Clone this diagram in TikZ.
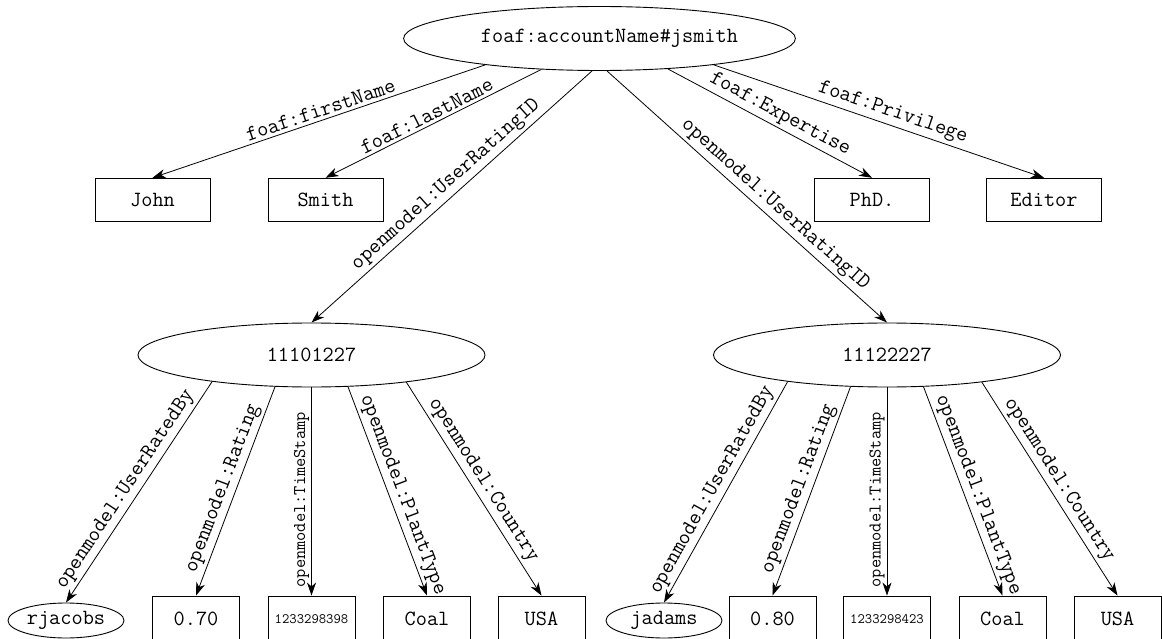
\documentclass[tikz,border=0pt]{standalone}
\usepackage{fontspec}
\usetikzlibrary{shapes.geometric,arrows.meta}
\begin{document}
\begin{tikzpicture}[x=1pt,y=-1pt,
  fnt/.style={font=\fontsize{21.7}{26}\selectfont\ttfamily},
  ell/.style={draw, ellipse, fnt, inner sep=0pt, line width=0.9pt},
  bigell/.style={ell, minimum width=347pt, minimum height=64pt},
  smallell/.style={ell, minimum width=116pt, minimum height=35pt},
  rectbox/.style={draw, rectangle, fnt, inner sep=0pt, line width=0.9pt},
  topbox/.style={rectbox, minimum width=115pt, minimum height=43.5pt},
  botbox/.style={rectbox, minimum width=87pt, minimum height=46pt},
  tsval/.style={font=\fontsize{14.3}{16}\selectfont\ttfamily},
  arr/.style={-{Stealth[length=13pt,width=9pt,inset=4pt]}, line width=0.8pt},
  lab/.style={fnt, inner sep=3pt, sloped, above},
  tslab/.style={font=\fontsize{17.9}{20}\selectfont\ttfamily, inner sep=2pt, rotate=90, anchor=south}]
\useasboundingbox (0,0) rectangle (1162,639);
\clip (0,0) rectangle (1162,639);

% nodes
\node[bigell] (acc) at (599.5,38.5) {\hspace*{20pt}foaf:accountName\#jsmith};
\node[topbox] (john) at (152.5,200) {John};
\node[topbox] (smith) at (325.5,200) {Smith};
\node[topbox] (phd) at (872,200) {PhD.};
\node[topbox] (editor) at (1044,200) {Editor};
\node[bigell] (r1) at (311.5,355) {11101227};
\node[bigell] (r2) at (887,355) {11122227};

\node[smallell] (rj) at (66,620.5) {rjacobs};
\node[botbox] (v1) at (196,619) {0.70};
\node[botbox, tsval] (t1) at (311.5,619) {1233298398};
\node[botbox] (p1) at (427,619) {Coal};
\node[botbox] (c1) at (541.5,619) {USA};

\node[smallell] (ja) at (664,620.5) {jadams};
\node[botbox] (v2) at (772.5,619) {0.80};
\node[botbox, tsval] (t2) at (887,619) {1233298423};
\node[botbox] (p2) at (1002.5,619) {Coal};
\node[botbox] (c2) at (1117.5,619) {USA};

% top edges
\draw[arr] (acc.193) -- node[lab,pos=0.485]{foaf:firstName} (john.north);
\draw[arr] (acc.208) -- node[lab,pos=0.51]{foaf:lastName} (smith.north);
\draw[arr] (acc.257) -- node[lab,pos=0.49]{openmodel:UserRatingID} (r1.north);
\draw[arr] (acc.283) -- node[lab,pos=0.57]{openmodel:UserRatingID} (r2.north);
\draw[arr] (acc.336) -- node[lab,pos=0.52]{foaf:Expertise} (phd.north);
\draw[arr] (acc.347) -- node[lab,pos=0.53]{foaf:Privilege} (editor.north);

% left rating edges
\draw[arr] (r1.195.5) -- node[lab,pos=0.52]{openmodel:UserRatedBy} (rj.north);
\draw[arr] (r1.221) -- node[lab,pos=0.51]{openmodel:Rating} (v1.north);
\draw[arr] (r1.south) -- node[tslab,pos=0.54]{openmodel:TimeStamp} (t1.north);
\draw[arr] (r1.319) -- node[lab,pos=0.54]{openmodel:PlantType} (p1.north);
\draw[arr] (r1.344) -- node[lab,pos=0.49]{openmodel:Country} (c1.north);

% right rating edges
\draw[arr] (r2.195.5) -- node[lab,pos=0.52]{openmodel:UserRatedBy} (ja.north);
\draw[arr] (r2.221) -- node[lab,pos=0.51]{openmodel:Rating} (v2.north);
\draw[arr] (r2.south) -- node[tslab,pos=0.54]{openmodel:TimeStamp} (t2.north);
\draw[arr] (r2.319) -- node[lab,pos=0.54]{openmodel:PlantType} (p2.north);
\draw[arr] (r2.344) -- node[lab,pos=0.49]{openmodel:Country} (c2.north);
\end{tikzpicture}
\end{document}
